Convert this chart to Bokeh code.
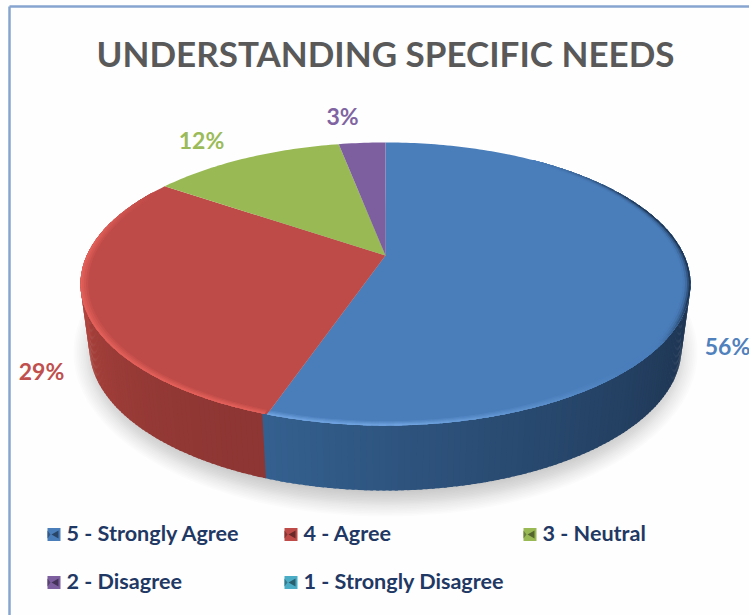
import math
from bokeh.plotting import figure
from bokeh.models import Range1d
from bokeh.core.properties import value
from bokeh.embed import file_html
from bokeh.resources import INLINE

# data
categories = ["5 - Strongly Agree", "4 - Agree", "3 - Neutral", "2 - Disagree", "1 - Strongly Disagree"]
shares = [55.2, 29.4, 12.4, 3.0, 0.0]
share_labels = ["56%", "29%", "12%", "3%"]
colors = ["#4a7ebb", "#be4b48", "#98b954", "#7d5fa0", "#4bacc6"]
label_colors = ["#4f81bd", "#c0504d", "#9bbb59", "#8064a2"]
title_text = "UNDERSTANDING SPECIFIC NEEDS"

X0, X1, Y0, Y1 = 0, 749, 0, 615
p = figure(width=X1 - X0, height=Y1 - Y0, x_range=Range1d(X0, X1), y_range=Range1d(Y1, Y0),
           output_backend="svg", toolbar_location=None, min_border=0)
p.axis.visible = False
p.grid.visible = False
p.outline_line_color = None
p.background_fill_color = "#fefefe"
p.border_fill_color = "#ffffff"

# chart-area border
p.line([9, 9], [6, Y1], line_color="#86a4cf", line_width=2.5)
p.line([9, X1], [6, 6], line_color="#86a4cf", line_width=2.5)

# perspective disc
CX, AP, K, A, B = 385, 255, 0.2013, 135.8, 298.8
CX2, AP2, A2, B2 = 385, 318.5, 137.0, 290.0


def top(t, r=1.0):
    d = 1 + K * math.cos(t)
    return CX + r * B * math.sin(t) / d, AP - r * A * math.cos(t) / d


def low(t):
    d = 1 + K * math.cos(t)
    return CX2 + B2 * math.sin(t) / d, AP2 - A2 * math.cos(t) / d


def mix(c1, c2, f):
    a = [int(c1[i:i + 2], 16) for i in (1, 3, 5)]
    b = [int(c2[i:i + 2], 16) for i in (1, 3, 5)]
    return "#%02x%02x%02x" % tuple(round(u + (v - u) * f) for u, v in zip(a, b))


# soft ground shadow
for i in range(16):
    f = i / 15
    p.ellipse([385], [352], width=[2 * (312 - 26 * f)], height=[2 * (164 - 24 * f)],
              fill_color="#808080", fill_alpha=0.022 + 0.016 * f, line_color=None)

# slice boundaries in turn fractions
bounds = [0.0]
for s in shares:
    bounds.append(bounds[-1] + s / sum(shares))
seam = 2 * math.pi * bounds[1]

# wall
t0, t1 = math.radians(97), math.radians(263)
N = 170
for i in range(N):
    a0 = t0 + (t1 - t0) * i / N
    a1 = t0 + (t1 - t0) * (i + 1.5) / N
    if a0 < seam:
        f = (a0 - t0) / (seam - t0)
        col = mix("#1d3350", "#34608f", f ** 1.3)
    else:
        f = (a0 - seam) / (t1 - seam)
        col = mix("#8d3633", "#b3453f", f ** 1.6)
    q0, q1, q2, q3 = top(a0), top(a1), low(a1), low(a0)
    p.patch([q0[0], q1[0], q2[0], q3[0]], [q0[1], q1[1], q2[1], q3[1]], fill_color=col, line_color=None)

# top face wedges
for i in range(4):
    a0, a1 = 2 * math.pi * bounds[i], 2 * math.pi * bounds[i + 1]
    n = max(3, int((a1 - a0) * 60))
    pts = [top(a0 + (a1 - a0) * j / n) for j in range(n + 1)]
    p.patch([CX] + [q[0] for q in pts], [AP] + [q[1] for q in pts], fill_color=colors[i], line_color=None)

# rim shading of the top face, as thin bands inside the edge
rings = [(0.975, 0.25), (0.982, 0.5), (0.989, 0.75), (0.995, 1.0)]
M = 110
a_start, a_end = math.radians(35), 2 * math.pi * bounds[2] - math.radians(4)
for r_in, strength in rings:
    for i in range(M):
        a0 = a_start + (a_end - a_start) * i / M
        a1 = min(a_start + (a_end - a_start) * (i + 1.5) / M, a_end)
        deg = math.degrees(a0)
        if a0 < seam:
            if deg < 125:
                fade = min(1, (deg - 35) / 30) * min(1, (125 - deg) / 18)
                col = mix(colors[0], "#1d3350", fade * strength ** 2 * 0.95)
            else:
                fade = min(1, max(0, (deg - 135) / 40))
                col = mix(colors[0], "#74a8e4", fade * strength * 0.9)
        else:
            fade = min(1, (300 - deg) / 25) if deg > 275 else 1
            col = mix(colors[1], "#e4605a", fade * strength)
        if a1 > seam > a0:
            a1 = seam
        q0, q1 = top(a0, r_in), top(a1, r_in)
        q2, q3 = top(a1), top(a0)
        p.patch([q0[0], q1[0], q2[0], q3[0]], [q0[1], q1[1], q2[1], q3[1]], fill_color=col, line_color=None)

# title
p.text([385], [52], text=[title_text], text_font=value("Lato"), text_font_style="bold",
       text_font_size="35px", text_color="#595959", text_align="center", text_baseline="middle")

# value labels
lab_x = [727, 41, 201, 342]
lab_y = [345, 370, 139, 115]
p.text(lab_x, lab_y, text=share_labels, text_font=value("Lato"), text_font_style="bold",
       text_font_size="23px", text_color=label_colors, text_align="center", text_baseline="middle")

# legend
leg_x = [47, 284, 523, 47, 284]
leg_y = [534, 534, 534, 582, 582]
for i, name in enumerate(categories):
    x, y = leg_x[i], leg_y[i]
    p.rect([x + 6.5], [y], width=[13], height=[13], fill_color=colors[i], line_color=None)
    p.patch([x + 4, x + 11, x + 11], [y, y - 4, y + 4], fill_color=mix(colors[i], "#000000", 0.45), line_color=None)
    p.patch([x, x + 3, x], [y - 4, y, y + 4], fill_color=mix(colors[i], "#000000", 0.3), line_color=None)
    p.text([x + 19], [y - 1.5], text=[name], text_font=value("Lato"), text_font_style="bold",
           text_font_size="21.6px", text_color="#1f3864", text_align="left", text_baseline="middle")

open("out.html", "w").write(file_html(p, INLINE))
